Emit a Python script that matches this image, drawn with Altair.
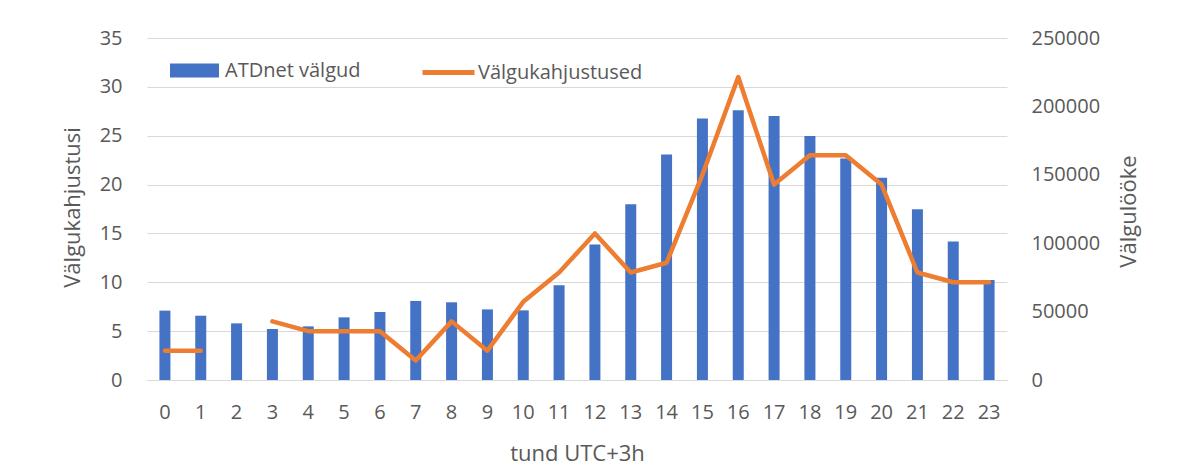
import altair as alt
import pandas as pd

hours = list(range(24))
strikes = [50700, 47000, 41400, 37200, 39200, 45800, 49700, 57800, 56800, 51600,
           50900, 69200, 99000, 128400, 164800, 191100, 197200, 193000, 178400,
           161900, 147900, 124800, 101200, 73100]
damages = [3, 3, None, 6, 5, 5, 5, 2, 6, 3, 8, 11, 15, 11, 12, 21, 31, 20, 23, 23,
           20, 11, 10, 10]
left_ticks = [0, 5, 10, 15, 20, 25, 30, 35]
right_ticks = [0, 50000, 100000, 150000, 200000, 250000]
bar_name = "ATDnet välgud"
line_name = "Välgukahjustused"

df = pd.DataFrame({"hour": hours, "strikes": strikes, "damages": damages})
df["segment"] = df["damages"].isna().cumsum()
df["bar_series"] = bar_name
df["line_series"] = line_name
line_df = df.dropna(subset=["damages"]).copy()

FONT = "Open Sans"
TXT = "#595959"
GRID = "#D9D9D9"
BLUE = "#4472C4"
ORANGE = "#ED7D31"

x_enc = alt.X(
    "hour:O",
    scale=alt.Scale(paddingInner=0, paddingOuter=0),
    axis=alt.Axis(
        title="tund UTC+3h", labelAngle=0, ticks=False, domain=True,
        domainColor=GRID, domainWidth=1, labelPadding=22, labelFontSize=20,
        labelFont=FONT, labelColor=TXT, titleFont=FONT, titleFontSize=22,
        titleColor=TXT, titleFontWeight="normal", titleBaseline="alphabetic",
        titleY=80, grid=False,
    ),
)

bars = alt.Chart(df).mark_bar(size=11).encode(
    x=x_enc,
    y=alt.Y(
        "strikes:Q",
        scale=alt.Scale(domain=[0, 250000], nice=False, zero=True),
        axis=alt.Axis(
            orient="right", values=right_ticks, format="d", grid=False,
            ticks=False, domain=False, labelPadding=24, labelFontSize=20,
            labelFont=FONT, labelColor=TXT, title="Välgulööke",
            titleFont=FONT, titleFontSize=22, titleColor=TXT,
            titleFontWeight="normal", titleAngle=270, titleX=128, titleY=173,
            titleAlign="center", titleBaseline="alphabetic",
        ),
    ),
    fill=alt.Fill(
        "bar_series:N",
        scale=alt.Scale(domain=[bar_name], range=[BLUE]),
        legend=alt.Legend(
            title=None, orient="none", legendX=23, legendY=8,
            direction="horizontal", symbolType="M-1,-0.2857H1V0.2857H-1Z",
            symbolSize=2401, symbolStrokeWidth=0, labelFont=FONT,
            labelFontSize=20, labelColor=TXT, labelOffset=6, labelLimit=400,
        ),
    ),
)

line = alt.Chart(line_df).mark_line(
    strokeWidth=4.5, strokeCap="round", strokeJoin="round"
).encode(
    x=x_enc,
    y=alt.Y(
        "damages:Q",
        scale=alt.Scale(domain=[0, 35], nice=False, zero=True),
        axis=alt.Axis(
            orient="left", values=left_ticks, grid=True, gridColor=GRID,
            gridWidth=1.2, ticks=False, domain=False, labelPadding=25,
            labelFontSize=20, labelFont=FONT, labelColor=TXT,
            title="Välgukahjustusi", titleFont=FONT, titleFontSize=22,
            titleColor=TXT, titleFontWeight="normal", titleAngle=270,
            titleX=-68, titleY=169, titleAlign="center",
            titleBaseline="alphabetic",
        ),
    ),
    stroke=alt.Stroke(
        "line_series:N",
        scale=alt.Scale(domain=[line_name], range=[ORANGE]),
        legend=alt.Legend(
            title=None, orient="none", legendX=273, legendY=6,
            direction="horizontal", symbolType="M-1,0H1", symbolSize=2704,
            symbolStrokeWidth=5, labelFont=FONT, labelFontSize=20,
            labelColor=TXT, labelOffset=1, labelLimit=400,
        ),
    ),
    detail="segment:N",
)

chart = (
    alt.layer(bars, line)
    .resolve_scale(y="independent", fill="independent", stroke="independent")
    .properties(
        width=860, height=342,
        autosize=alt.AutoSizeParams(type="none"),
        padding={"left": 139, "top": 30, "right": 165, "bottom": 88},
        background="white",
    )
    .configure_view(stroke=None)
)

chart.save("out.html", embed_options={"renderer": "svg", "actions": False})
